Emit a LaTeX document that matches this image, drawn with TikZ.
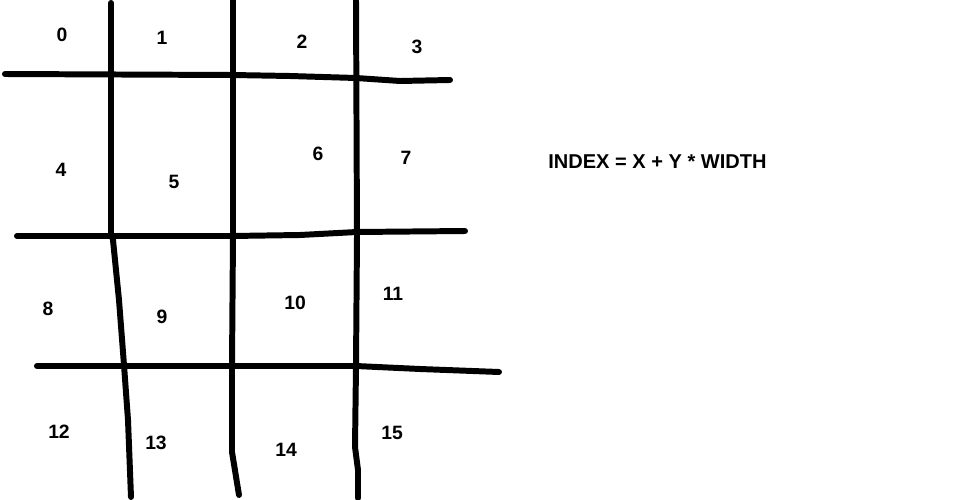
\documentclass[tikz,border=0pt]{standalone}
\usepackage{fontspec}
\setmainfont{Liberation Sans}[BoldFont={Liberation Sans Bold}]
\usepackage{tikz}

\begin{document}
\begin{tikzpicture}[x=0.02cm, y=-0.02cm,
    pen/.style={line width=3.4pt, line cap=round, line join=round},
    cell/.style={font=\bfseries\fontsize{11}{13}\selectfont, inner sep=0pt}]
    \useasboundingbox (0,0) rectangle (967,500);

    % Vertical strokes
    \draw[pen] (111,3) -- (111,234) -- (113,240) -- (119,300) -- (124,365) -- (128,420) -- (131,497);
    \draw[pen] (233,0) -- (233,236) -- (232,365) -- (232,452) -- (239,495);
    \draw[pen] (356,0) -- (357,236) -- (356,366) -- (355,447) -- (358,470) -- (358,498);

    % Horizontal strokes
    \draw[pen] (5,74) -- (232,75) -- (290,76) -- (356,78) -- (400,81) -- (450,80);
    \draw[pen] (17,236) -- (232,236) -- (300,235) -- (357,232) -- (465,231);
    \draw[pen] (37,366) -- (232,366) -- (325,366) -- (356,366) -- (420,369) -- (499,372);

    % Cell indices
    \node[cell] (c0) at (62,35) {0};
    \node[cell] (c1) at (162,38) {1};
    \node[cell] (c2) at (302,42) {2};
    \node[cell] (c3) at (417,47) {3};
    \node[cell] (c4) at (61,170) {4};
    \node[cell] (c5) at (174,182) {5};
    \node[cell] (c6) at (318,154) {6};
    \node[cell] (c7) at (406,158) {7};
    \node[cell] (c8) at (48,309) {8};
    \node[cell] (c9) at (162,317) {9};
    \node[cell] (c10) at (295,303) {10};
    \node[cell] (c11) at (393,294) {11};
    \node[cell] (c12) at (59,432) {12};
    \node[cell] (c13) at (156,443) {13};
    \node[cell] (c14) at (286,450) {14};
    \node[cell] (c15) at (392,433) {15};

    % Formula
    \node[font=\bfseries\fontsize{11.4}{14}\selectfont, inner sep=0pt, anchor=west] (formula) at (548,162) {INDEX = X + Y * WIDTH};
\end{tikzpicture}
\end{document}
